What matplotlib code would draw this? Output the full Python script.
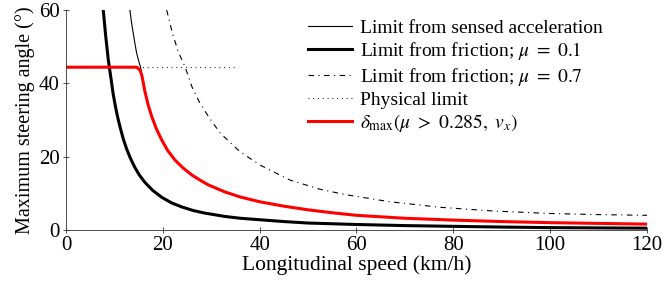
import matplotlib
matplotlib.use("Agg")
import matplotlib.pyplot as plt

plt.rcParams['font.family'] = 'serif'
plt.rcParams['font.serif'] = ['Liberation Serif', 'DejaVu Serif']
plt.rcParams['mathtext.fontset'] = 'stix'

# values (speed in km/h, angle in degrees)
sensed_x = [13.2, 13.55, 13.9, 14.25, 14.6, 15.0, 15.4, 15.9, 16.4, 17.0, 17.7,
            18.7, 19.8, 21.0, 22.5, 24.2, 26.0, 27.7, 29.4, 32.8, 36.0, 40.0,
            45.0, 50.0, 55.0, 60.0, 70.0, 80.0, 90.0, 100.0, 110.0, 120.0]
sensed_y = [60.0, 56.5, 53.6, 50.8, 48.2, 46.2, 44.4, 41.0, 37.6, 34.2, 31.0,
            27.5, 24.5, 21.7, 19.1, 16.9, 15.0, 13.6, 12.3, 10.4, 9.0, 7.7,
            6.5, 5.5, 4.7, 4.0, 3.2, 2.7, 2.3, 2.0, 1.8, 1.6]

fric01_x = [7.7, 8.2, 8.74, 9.3, 9.7, 10.1, 10.6, 11.15, 11.8, 12.5, 13.3,
            14.25, 15.2, 16.3, 17.1, 18.0, 19.8, 21.8, 23.9, 26.3, 28.7, 32.8,
            36.0, 40.0, 45.0, 50.0, 60.0, 70.0, 80.0, 90.0, 100.0, 110.0, 120.0]
fric01_y = [60.0, 53.0, 46.4, 41.3, 37.5, 34.5, 31.2, 28.2, 25.0, 22.2, 19.6,
            17.0, 14.9, 13.0, 11.9, 10.7, 8.9, 7.4, 6.3, 5.3, 4.6, 3.7,
            3.2, 2.8, 2.3, 1.9, 1.5, 1.2, 1.0, 0.8, 0.65, 0.57, 0.5]

fric07_x = [20.8, 22.0, 23.2, 24.6, 26.0, 27.5, 29.4, 31.8, 35.9, 40.1, 46.3,
            52.5, 57.5, 66.9, 77.2, 88.0, 100.0, 110.0, 120.0]
fric07_y = [60.0, 53.6, 48.6, 44.5, 39.1, 35.0, 31.0, 26.5, 21.4, 17.7, 13.6,
            11.1, 9.7, 7.7, 6.2, 5.2, 4.5, 4.2, 4.0]

phys_x = [0.0, 35.0]
phys_y = [44.4, 44.4]

dmax_x = [0.0, 14.6, 15.3, 15.7, 16.3, 17.0, 17.7, 18.7, 19.8, 21.0, 22.5,
          24.2, 26.0, 27.7, 29.4, 32.8, 36.0, 40.0, 45.0, 50.0, 55.0, 60.0,
          70.0, 80.0, 90.0, 100.0, 110.0, 120.0]
dmax_y = [44.4, 44.4, 43.6, 42.0, 37.8, 34.0, 31.0, 27.5, 24.5, 21.7, 19.1,
          16.9, 15.0, 13.6, 12.3, 10.4, 9.0, 7.7, 6.5, 5.5, 4.7, 4.0,
          3.2, 2.7, 2.3, 2.0, 1.8, 1.6]

x_ticks = [0, 20, 40, 60, 80, 100, 120]
y_ticks = [0, 20, 40, 60]

fig = plt.figure(figsize=(6.65, 2.88), dpi=100)
ax = fig.add_axes([0.0992, 0.2014, 0.8737, 0.7639])

ax.plot(sensed_x, sensed_y, color='black', lw=0.8,
        label='Limit from sensed acceleration')
ax.plot(fric01_x, fric01_y, color='black', lw=2.2,
        label=r'Limit from friction; $\mu\ =\ 0.1$')
ax.plot(fric07_x, fric07_y, color='black', lw=0.8, dashes=(5, 4, 1, 4),
        label=r'Limit from friction; $\mu\ =\ 0.7$')
ax.plot(phys_x, phys_y, color='black', lw=0.8, dashes=(0.8, 3.5),
        label='Physical limit')
ax.plot(dmax_x, dmax_y, color='red', lw=2.2,
        label=r'$\delta_{\max}(\mu\ >\ 0.285,\ v_x)$')

ax.set_xlim(0, 120)
ax.set_ylim(0, 60)
ax.set_xticks(x_ticks)
ax.set_yticks(y_ticks)
for s in ['top', 'right']:
    ax.spines[s].set_visible(False)
for s in ['left', 'bottom']:
    ax.spines[s].set_linewidth(0.6)
    ax.spines[s].set_color('#333333')
ax.tick_params(direction='inout', length=5, width=0.6, color='#333333',
               labelsize=15, pad=2)

ax.set_xlabel('Longitudinal speed (km/h)', fontsize=15.5, labelpad=0)
ax.set_ylabel('Maximum steering angle (°)', fontsize=14.5, labelpad=3)

ax.legend(loc='upper left', bbox_to_anchor=(308 / 665, 1 - 19 / 288),
          bbox_transform=fig.transFigure, frameon=False, fontsize=14,
          handlelength=2.25, handletextpad=0.4, labelspacing=0.18,
          borderpad=0, borderaxespad=0)

fig.savefig('out.png', dpi=100)
